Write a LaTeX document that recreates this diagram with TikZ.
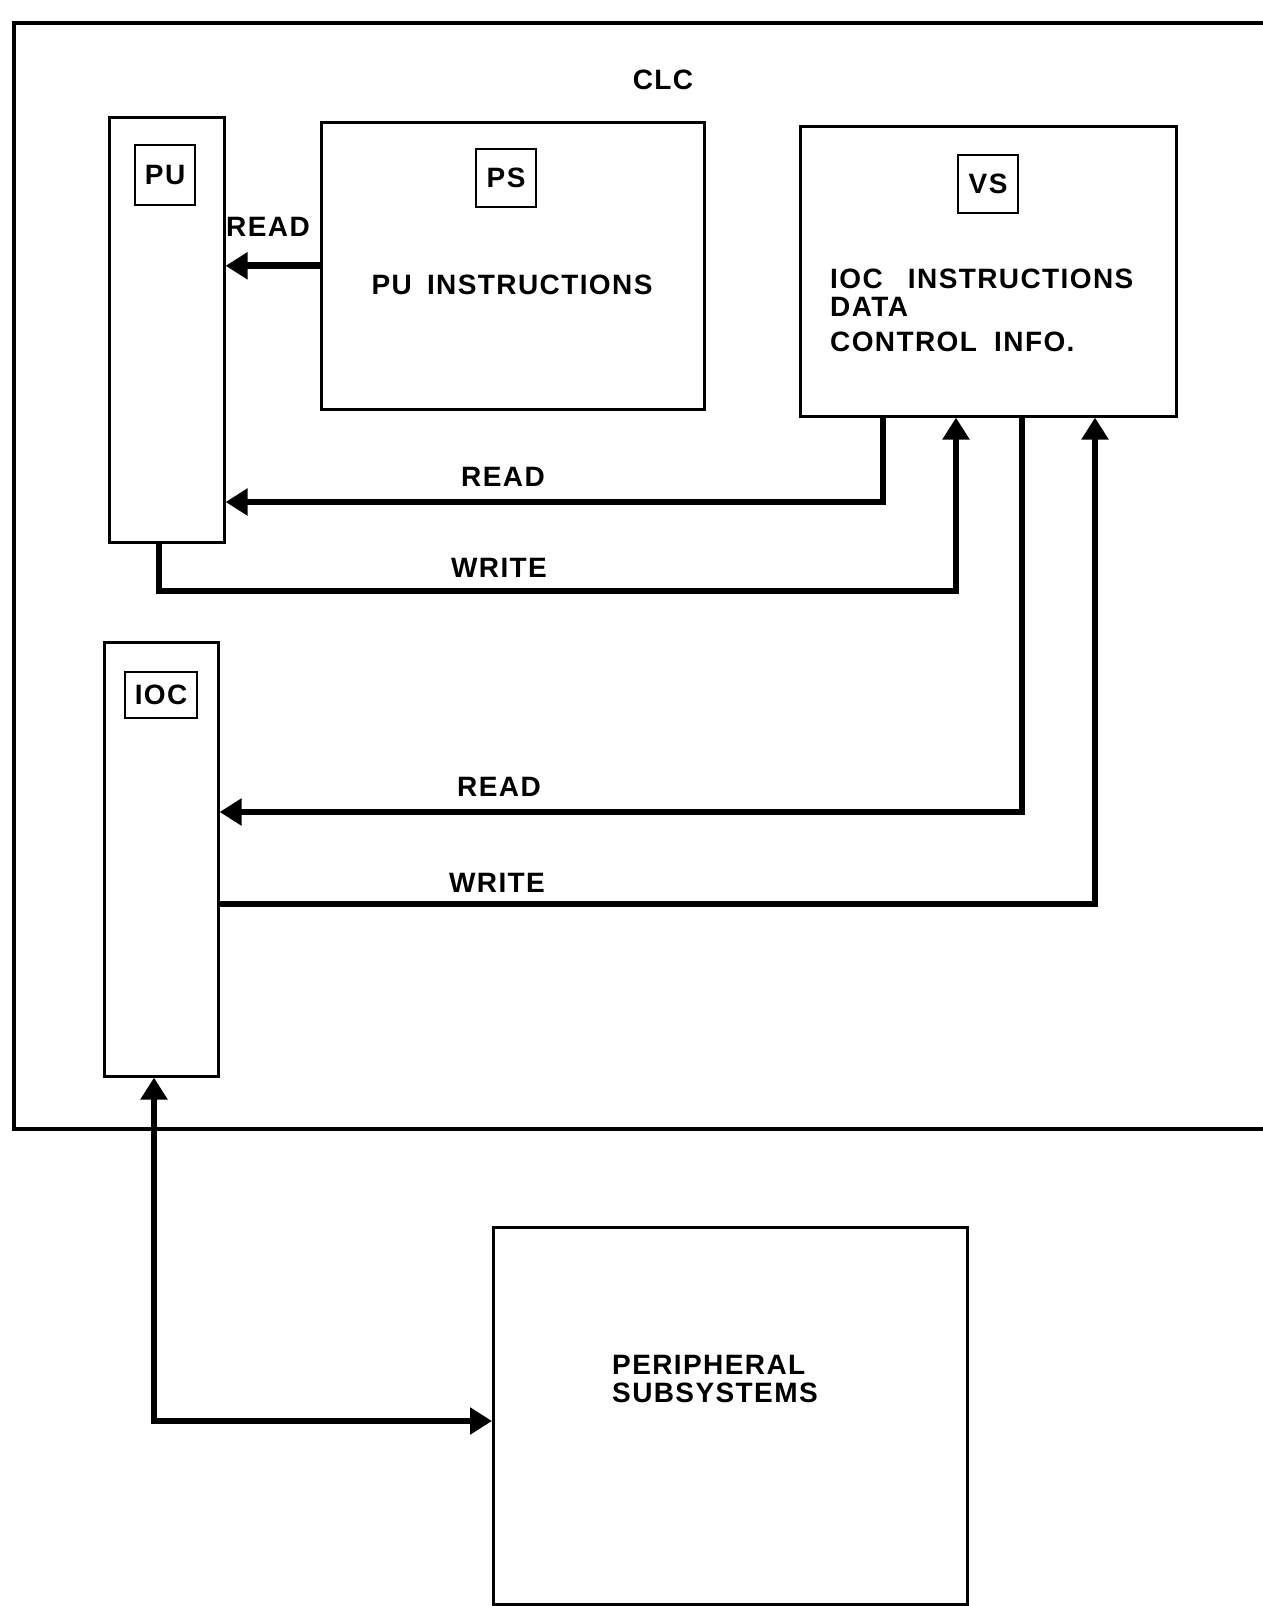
\documentclass[tikz,border=0pt]{standalone}
\usepackage{fontspec}
\setmainfont{Liberation Sans}[LetterSpace=5]
\usetikzlibrary{arrows.meta}
\newcommand{\lab}{\bfseries\fontsize{28}{31}\selectfont}
\begin{document}
\begin{tikzpicture}[x=1pt,y=-1pt,
  frame/.style={draw, line width=4pt, inner sep=0pt, anchor=north west},
  unit/.style={draw, line width=2.6pt, inner sep=0pt, anchor=north west},
  tag/.style={draw, line width=2.2pt, inner sep=0pt, anchor=north west, font=\lab},
  txt/.style={inner sep=0pt, font=\lab},
  conn/.style={line width=5.5pt},
  heavy/.style={line width=7pt},
  tip/.style={-{Triangle[length=22pt,width=26pt]}},
  dtip/.style={{Triangle[length=22pt,width=26pt]}-{Triangle[length=22pt,width=26pt]}}]
\useasboundingbox (0,0) rectangle (1263,1606);
% outer CLC frame (right side runs off the page)
\node[frame, minimum width=1320pt, minimum height=1106pt] (clc) at (12,21) {};
\node[txt, anchor=base] (clct) at (663,89) {CLC};
% units
\node[unit, minimum width=115pt, minimum height=425pt] (pu) at (108,116) {};
\node[unit, minimum width=383pt, minimum height=287pt] (ps) at (320,121) {};
\node[unit, minimum width=376pt, minimum height=290pt] (vs) at (799,125) {};
\node[unit, minimum width=114pt, minimum height=434pt] (ioc) at (103,641) {};
\node[unit, minimum width=474pt, minimum height=377pt] (per) at (492,1226) {};
% tags
\node[tag, minimum width=60pt, minimum height=60pt] (put) at (134,144) {PU};
\node[tag, minimum width=60pt, minimum height=58pt] (pst) at (475,148) {PS};
\node[tag, minimum width=60pt, minimum height=58pt] (vst) at (957,154) {VS};
\node[tag, minimum width=72pt, minimum height=46pt] (ioct) at (124,671) {IOC};
% contents
\node[txt, anchor=base] (psc) at (512,294) {PU\hspace{6pt} INSTRUCTIONS};
\node[txt, anchor=base west] (vsc1) at (830,288) {IOC\hspace{16pt} INSTRUCTIONS};
\node[txt, anchor=base west] (vsc2) at (830,316) {DATA};
\node[txt, anchor=base west] (vsc3) at (830,351) {CONTROL\hspace{8pt} INFO.};
\node[txt, anchor=base west] (per1) at (612,1374) {PERIPHERAL};
\node[txt, anchor=base west] (per2) at (612,1402) {SUBSYSTEMS};
% connectors
\draw[heavy, tip] (ps.west) -- (pu.east |- ps.west);
\node[txt, anchor=base] (l1) at (268,236) {READ};
\coordinate (r1) at (883,502);
\draw[conn, tip] (vs.south -| r1) |- (pu.east |- r1);
\node[txt, anchor=base] (l2) at (503,486) {READ};
\coordinate (w1a) at (159,591);
\coordinate (w1b) at (956,591);
\draw[conn, tip] (pu.south -| w1a) -- (w1a) -| (vs.south -| w1b);
\node[txt, anchor=base] (l3) at (499,577) {WRITE};
\coordinate (r2) at (1022,812);
\draw[conn, tip] (vs.south -| r2) |- (ioc.east |- r2);
\node[txt, anchor=base] (l4) at (499,796) {READ};
\coordinate (w2) at (1095,904);
\draw[conn, tip] (ioc.east |- w2) -| (vs.south -| w2);
\node[txt, anchor=base] (l5) at (497,892) {WRITE};
\coordinate (b) at (154,1421);
\draw[conn, dtip] (ioc.south -| b) |- (per.west |- b);
\end{tikzpicture}
\end{document}
